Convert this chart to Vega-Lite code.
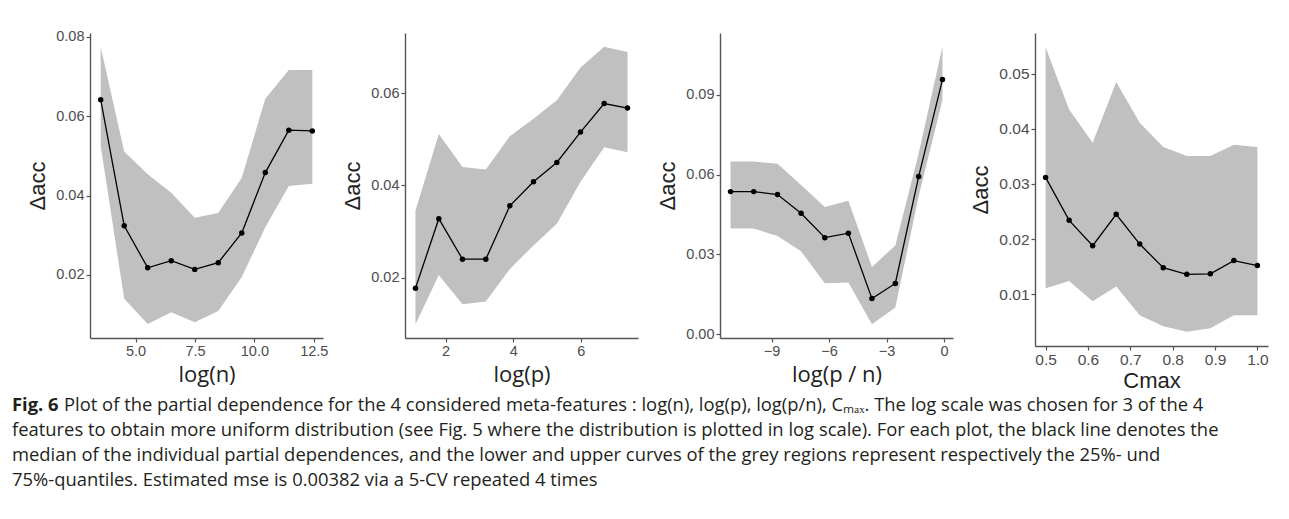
{
  "$schema": "https://vega.github.io/schema/vega-lite/v6.json",
  "padding": {"left": 12, "top": 28, "right": 0, "bottom": 0},
  "background": "white",
  "datasets": {
    "pd": [
      {"panel": "n", "x": 3.53, "lo": 0.0526, "med": 0.0642, "hi": 0.0775},
      {"panel": "n", "x": 4.52, "lo": 0.0140, "med": 0.0324, "hi": 0.0511},
      {"panel": "n", "x": 5.51, "lo": 0.0076, "med": 0.0218, "hi": 0.0454},
      {"panel": "n", "x": 6.50, "lo": 0.0106, "med": 0.0236, "hi": 0.0407},
      {"panel": "n", "x": 7.49, "lo": 0.0081, "med": 0.0214, "hi": 0.0344},
      {"panel": "n", "x": 8.48, "lo": 0.0109, "med": 0.0231, "hi": 0.0356},
      {"panel": "n", "x": 9.47, "lo": 0.0195, "med": 0.0306, "hi": 0.0445},
      {"panel": "n", "x": 10.46, "lo": 0.0320, "med": 0.0458, "hi": 0.0644},
      {"panel": "n", "x": 11.45, "lo": 0.0424, "med": 0.0565, "hi": 0.0717},
      {"panel": "n", "x": 12.44, "lo": 0.0430, "med": 0.0563, "hi": 0.0717},
      {"panel": "p", "x": 1.11, "lo": 0.0099, "med": 0.0177, "hi": 0.0346},
      {"panel": "p", "x": 1.80, "lo": 0.0206, "med": 0.0328, "hi": 0.0512},
      {"panel": "p", "x": 2.50, "lo": 0.0142, "med": 0.0240, "hi": 0.0440},
      {"panel": "p", "x": 3.19, "lo": 0.0148, "med": 0.0240, "hi": 0.0435},
      {"panel": "p", "x": 3.90, "lo": 0.0219, "med": 0.0356, "hi": 0.0507},
      {"panel": "p", "x": 4.60, "lo": 0.0270, "med": 0.0408, "hi": 0.0545},
      {"panel": "p", "x": 5.29, "lo": 0.0317, "med": 0.0450, "hi": 0.0585},
      {"panel": "p", "x": 5.99, "lo": 0.0408, "med": 0.0516, "hi": 0.0656},
      {"panel": "p", "x": 6.69, "lo": 0.0483, "med": 0.0578, "hi": 0.0701},
      {"panel": "p", "x": 7.38, "lo": 0.0472, "med": 0.0568, "hi": 0.0690},
      {"panel": "pn", "x": -11.14, "lo": 0.0397, "med": 0.0536, "hi": 0.0649},
      {"panel": "pn", "x": -9.93, "lo": 0.0397, "med": 0.0536, "hi": 0.0649},
      {"panel": "pn", "x": -8.69, "lo": 0.0369, "med": 0.0525, "hi": 0.0641},
      {"panel": "pn", "x": -7.46, "lo": 0.0312, "med": 0.0455, "hi": 0.0561},
      {"panel": "pn", "x": -6.22, "lo": 0.0192, "med": 0.0363, "hi": 0.0478},
      {"panel": "pn", "x": -4.99, "lo": 0.0195, "med": 0.0380, "hi": 0.0502},
      {"panel": "pn", "x": -3.76, "lo": 0.0038, "med": 0.0134, "hi": 0.0253},
      {"panel": "pn", "x": -2.54, "lo": 0.0101, "med": 0.0191, "hi": 0.0334},
      {"panel": "pn", "x": -1.32, "lo": 0.0520, "med": 0.0593, "hi": 0.0680},
      {"panel": "pn", "x": -0.08, "lo": 0.0880, "med": 0.0957, "hi": 0.1080},
      {"panel": "c", "x": 0.5, "lo": 0.0111, "med": 0.0312, "hi": 0.0548},
      {"panel": "c", "x": 0.5556, "lo": 0.0124, "med": 0.0234, "hi": 0.0435},
      {"panel": "c", "x": 0.6111, "lo": 0.0087, "med": 0.0188, "hi": 0.0375},
      {"panel": "c", "x": 0.6667, "lo": 0.0114, "med": 0.0245, "hi": 0.0485},
      {"panel": "c", "x": 0.7222, "lo": 0.0062, "med": 0.0191, "hi": 0.0411},
      {"panel": "c", "x": 0.7778, "lo": 0.0042, "med": 0.0148, "hi": 0.0367},
      {"panel": "c", "x": 0.8333, "lo": 0.0032, "med": 0.0136, "hi": 0.0351},
      {"panel": "c", "x": 0.8889, "lo": 0.0038, "med": 0.0137, "hi": 0.0351},
      {"panel": "c", "x": 0.9444, "lo": 0.0062, "med": 0.0161, "hi": 0.0371},
      {"panel": "c", "x": 1.0, "lo": 0.0062, "med": 0.0152, "hi": 0.0367}
    ],
    "caption": [
      {"line": 1, "text": "Plot of the partial dependence for the 4 considered meta-features : log(n), log(p), log(p/n), Cₘₐₓ. The log scale was chosen for 3 of the 4"},
      {"line": 2, "text": "features to obtain more uniform distribution (see Fig. 5 where the distribution is plotted in log scale). For each plot, the black line denotes the"},
      {"line": 3, "text": "median of the individual partial dependences, and the lower and upper curves of the grey regions represent respectively the 25%- und"},
      {"line": 4, "text": "75%-quantiles. Estimated mse is 0.00382 via a 5-CV repeated 4 times"}
    ],
    "figlabel": [{"line": 1, "text": "Fig. 6"}]
  },
  "vconcat": [
    {
      "hconcat": [
        {
          "width": 233, "height": 305,
          "data": {"name": "pd"},
          "transform": [{"filter": "datum.panel == 'n'"}],
          "encoding": {
            "x": {"field": "x", "type": "quantitative",
              "scale": {"domain": [3.08, 12.89], "nice": false, "zero": false},
              "axis": {"values": [5, 7.5, 10, 12.5], "format": ".1f", "title": "log(n)", "titleFont": "Open Sans"}}
          },
          "layer": [
            {"mark": {"type": "area", "color": "#c0c0c0", "opacity": 1},
             "encoding": {"y": {"field": "lo", "type": "quantitative", "scale": {"domain": [0.0041, 0.0810], "nice": false, "zero": false},
               "axis": {"values": [0.02, 0.04, 0.06, 0.08], "format": ".2f", "title": "Δacc"}}, "y2": {"field": "hi"}}},
            {"mark": {"type": "line", "color": "black", "strokeWidth": 1.3},
             "encoding": {"y": {"field": "med", "type": "quantitative", "axis": {"values": [0.02, 0.04, 0.06, 0.08], "format": ".2f", "title": "Δacc"}}}},
            {"mark": {"type": "point", "filled": true, "color": "black", "size": 30, "opacity": 1},
             "encoding": {"y": {"field": "med", "type": "quantitative", "axis": {"values": [0.02, 0.04, 0.06, 0.08], "format": ".2f", "title": "Δacc"}}}}
          ]
        },
        {
          "width": 233, "height": 305,
          "data": {"name": "pd"},
          "transform": [{"filter": "datum.panel == 'p'"}],
          "encoding": {
            "x": {"field": "x", "type": "quantitative",
              "scale": {"domain": [0.80, 7.69], "nice": false, "zero": false},
              "axis": {"values": [2, 4, 6], "format": "d", "title": "log(p)", "titleFont": "Open Sans"}}
          },
          "layer": [
            {"mark": {"type": "area", "color": "#c0c0c0", "opacity": 1},
             "encoding": {"y": {"field": "lo", "type": "quantitative", "scale": {"domain": [0.0069, 0.0731], "nice": false, "zero": false},
               "axis": {"values": [0.02, 0.04, 0.06], "format": ".2f", "title": "Δacc"}}, "y2": {"field": "hi"}}},
            {"mark": {"type": "line", "color": "black", "strokeWidth": 1.3},
             "encoding": {"y": {"field": "med", "type": "quantitative", "axis": {"values": [0.02, 0.04, 0.06], "format": ".2f", "title": "Δacc"}}}},
            {"mark": {"type": "point", "filled": true, "color": "black", "size": 30, "opacity": 1},
             "encoding": {"y": {"field": "med", "type": "quantitative", "axis": {"values": [0.02, 0.04, 0.06], "format": ".2f", "title": "Δacc"}}}}
          ]
        },
        {
          "width": 233, "height": 305,
          "data": {"name": "pd"},
          "transform": [{"filter": "datum.panel == 'pn'"}],
          "encoding": {
            "x": {"field": "x", "type": "quantitative",
              "scale": {"domain": [-11.69, 0.47], "nice": false, "zero": false},
              "axis": {"values": [-9, -6, -3, 0], "format": "d", "title": "log(p / n)", "titleFont": "Open Sans"}}
          },
          "layer": [
            {"mark": {"type": "area", "color": "#c0c0c0", "opacity": 1},
             "encoding": {"y": {"field": "lo", "type": "quantitative", "scale": {"domain": [-0.0014, 0.1132], "nice": false, "zero": false},
               "axis": {"values": [0, 0.03, 0.06, 0.09], "format": ".2f", "title": "Δacc"}}, "y2": {"field": "hi"}}},
            {"mark": {"type": "line", "color": "black", "strokeWidth": 1.3},
             "encoding": {"y": {"field": "med", "type": "quantitative", "axis": {"values": [0, 0.03, 0.06, 0.09], "format": ".2f", "title": "Δacc"}}}},
            {"mark": {"type": "point", "filled": true, "color": "black", "size": 30, "opacity": 1},
             "encoding": {"y": {"field": "med", "type": "quantitative", "axis": {"values": [0, 0.03, 0.06, 0.09], "format": ".2f", "title": "Δacc"}}}}
          ]
        },
        {
          "width": 233, "height": 313,
          "data": {"name": "pd"},
          "transform": [{"filter": "datum.panel == 'c'"}],
          "encoding": {
            "x": {"field": "x", "type": "quantitative",
              "scale": {"domain": [0.475, 1.025], "nice": false, "zero": false},
              "axis": {"values": [0.5, 0.6, 0.7, 0.8, 0.9, 1.0], "format": ".1f", "title": "Cmax", "labelFontSize": 15.5, "titlePadding": 3}}
          },
          "layer": [
            {"mark": {"type": "area", "color": "#c0c0c0", "opacity": 1},
             "encoding": {"y": {"field": "lo", "type": "quantitative", "scale": {"domain": [0.0006, 0.0574], "nice": false, "zero": false},
               "axis": {"values": [0.01, 0.02, 0.03, 0.04, 0.05], "format": ".2f", "title": "Δacc", "labelFontSize": 15.5}}, "y2": {"field": "hi"}}},
            {"mark": {"type": "line", "color": "black", "strokeWidth": 1.3},
             "encoding": {"y": {"field": "med", "type": "quantitative", "axis": {"values": [0.01, 0.02, 0.03, 0.04, 0.05], "format": ".2f", "title": "Δacc", "labelFontSize": 15.5}}}},
            {"mark": {"type": "point", "filled": true, "color": "black", "size": 30, "opacity": 1},
             "encoding": {"y": {"field": "med", "type": "quantitative", "axis": {"values": [0.01, 0.02, 0.03, 0.04, 0.05], "format": ".2f", "title": "Δacc", "labelFontSize": 15.5}}}}
          ]
        }
      ],
      "spacing": 82,
      "bounds": "flush"
    },
    {
      "width": 1180, "height": 100,
      "layer": [
        {
          "data": {"name": "figlabel"},
          "mark": {"type": "text", "align": "left", "baseline": "middle", "font": "Open Sans", "fontSize": 18.4, "fontWeight": "bold", "color": "#231f20", "dx": -78},
          "encoding": {
            "y": {"field": "line", "type": "ordinal", "scale": {"type": "point", "padding": 0.5, "domain": [1, 2, 3, 4]}, "axis": null},
            "x": {"value": 0},
            "text": {"field": "text"}
          }
        },
        {
          "data": {"name": "caption"},
          "transform": [{"filter": "datum.line == 1"}],
          "mark": {"type": "text", "align": "left", "baseline": "middle", "font": "Open Sans", "fontSize": 18.4, "color": "#231f20", "dx": -26},
          "encoding": {
            "y": {"field": "line", "type": "ordinal", "scale": {"type": "point", "padding": 0.5, "domain": [1, 2, 3, 4]}, "axis": null},
            "x": {"value": 0},
            "text": {"field": "text"}
          }
        },
        {
          "data": {"name": "caption"},
          "transform": [{"filter": "datum.line > 1"}],
          "mark": {"type": "text", "align": "left", "baseline": "middle", "font": "Open Sans", "fontSize": 18.4, "color": "#231f20", "dx": -78},
          "encoding": {
            "y": {"field": "line", "type": "ordinal", "scale": {"type": "point", "padding": 0.5, "domain": [1, 2, 3, 4]}, "axis": null},
            "x": {"value": 0},
            "text": {"field": "text"}
          }
        }
      ]
    }
  ],
  "spacing": 0,
  "config": {
    "view": {"stroke": null},
    "axis": {
      "grid": false,
      "domainColor": "#555555",
      "domainWidth": 1.4,
      "tickColor": "#555555",
      "tickWidth": 1.2,
      "tickSize": 4,
      "labelFont": "Liberation Sans",
      "labelFontSize": 14.5,
      "labelColor": "#4d4d4d",
      "labelPadding": 2,
      "titleFont": "Liberation Sans",
      "titleFontSize": 22,
      "titleFontWeight": "normal",
      "titleColor": "#222222"
    },
    "axisX": {"titlePadding": 7, "labelFlush": false, "labelOverlap": false},
    "axisY": {"titlePadding": 6, "labelOverlap": false}
  }
}
